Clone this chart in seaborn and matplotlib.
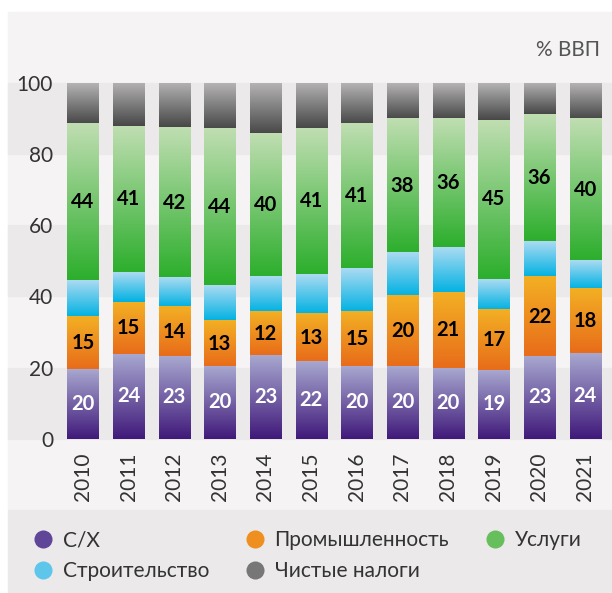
import numpy as np
import pandas as pd
import seaborn as sns
import matplotlib.pyplot as plt
from matplotlib.colors import LinearSegmentedColormap
from matplotlib.lines import Line2D
from matplotlib.patches import Rectangle

# --- Data (% of GDP) ---
years = ['2010', '2011', '2012', '2013', '2014', '2015',
         '2016', '2017', '2018', '2019', '2020', '2021']
agri = [19.6, 23.8, 23.2, 20.4, 23.4, 21.8, 20.4, 20.4, 19.9, 19.3, 23.2, 24.1]
industry = [14.7, 14.6, 13.8, 12.7, 12.1, 13.3, 15.2, 19.7, 21.1, 16.9, 22.3, 18.0]
construction = [10.3, 8.2, 8.2, 10.1, 9.9, 11.2, 12.1, 12.1, 12.9, 8.7, 10.1, 8.1]
services = [43.9, 41.3, 42.4, 43.9, 40.4, 41.0, 40.8, 37.7, 36.0, 44.7, 35.6, 39.7]
taxes = [11.5, 12.1, 12.4, 12.9, 14.2, 12.7, 11.5, 10.1, 10.1, 10.4, 8.8, 10.1]

series_names = ['С/Х', 'Промышленность', 'Строительство', 'Услуги', 'Чистые налоги']
series_values = [agri, industry, construction, services, taxes]
labelled = ['С/Х', 'Промышленность', 'Услуги']

# gradient colours (bottom, top)
grads = {
    'С/Х': ('#40197a', '#a8a8d0'),
    'Промышленность': ('#e86c1a', '#f3b024'),
    'Строительство': ('#00b1e2', '#abdbf2'),
    'Услуги': ('#2cae2c', '#c0deb2'),
    'Чистые налоги': ('#474747', '#b5b3b4'),
}
legend_colors = ['#5f4698', '#5ec6ea', '#ef8f1f', '#777777', '#66be5c']

BG = '#f5f3f4'
BAND = '#ebe9ea'
TXT = '#333333'

plt.rcParams['font.family'] = ['Lato', 'DejaVu Sans']

fig = plt.figure(figsize=(6.12, 5.93), dpi=100, facecolor='white')
W, H = 612, 593
# page background panels
fig.patches.append(Rectangle((8 / W, 83 / H), 1, (H - 12 - 83) / H,
                             transform=fig.transFigure, color=BG, zorder=-5))
fig.patches.append(Rectangle((8 / W, 0), 1, 83 / H,
                             transform=fig.transFigure, color=BAND, zorder=-5))

ax = fig.add_axes([60 / W, (H - 438.7) / H, 548 / W, 355.7 / H])
ax.set_facecolor('none')

# cumulative tops per layer
df = pd.DataFrame({'year': years})
cum = np.zeros(len(years))
bottoms = {}
for name, vals in zip(series_names, series_values):
    bottoms[name] = cum.copy()
    cum = cum + np.array(vals)
    df[name] = cum.copy()

grad = np.linspace(0, 1, 256).reshape(-1, 1)
bar_w = 0.68

# draw from the top layer down, then paint each segment with a gradient
for name in reversed(series_names):
    n0 = len(ax.patches)
    sns.barplot(data=df, x='year', y=name, color=grads[name][0],
                width=bar_w, ax=ax, zorder=2)
    cmap = LinearSegmentedColormap.from_list(name, list(grads[name]))
    for p, b in zip(ax.patches[n0:], bottoms[name]):
        x0, w, top = p.get_x(), p.get_width(), p.get_height()
        p.set_visible(False)
        ax.imshow(grad, extent=[x0, x0 + w, b, top], origin='lower',
                  cmap=cmap, aspect='auto', zorder=3, interpolation='bilinear')

# value labels
for name, vals in zip(series_names, series_values):
    if name not in labelled:
        continue
    col = 'white' if name == 'С/Х' else 'black'
    for i, v in enumerate(vals):
        ax.text(i, bottoms[name][i] + v / 2, f'{round(v):d}', ha='center',
                va='center', fontsize=14.5, fontweight='bold', color=col, zorder=5)

# horizontal bands
for k in [0, 40, 80]:
    ax.axhspan(k, k + 20, xmin=-0.095, xmax=1.01, color=BAND, zorder=0, clip_on=False)

ax.set_xlim(-0.5, len(years) - 0.5)
ax.set_ylim(0, 100)
ax.set_yticks([0, 20, 40, 60, 80, 100])
ax.set_xlabel('')
ax.set_ylabel('')
for s in ax.spines.values():
    s.set_visible(False)
ax.tick_params(axis='both', length=0, labelsize=15, labelcolor=TXT)
ax.tick_params(axis='y', pad=5)
ax.tick_params(axis='x', pad=10)
plt.setp(ax.get_xticklabels(), rotation=90)

fig.text(600 / W, 1 - 49.5 / H, '% ВВП', ha='right', va='center',
         fontsize=15, color='#555555')

# legend
order = ['С/Х', 'Строительство', 'Промышленность', 'Чистые налоги', 'Услуги']
handles = [Line2D([], [], marker='o', linestyle='', markersize=13,
                  markerfacecolor=c, markeredgecolor='none', label=n)
           for n, c in zip(order, legend_colors)]
fig.legend(handles=handles, loc='upper left', bbox_to_anchor=(22 / W, 1 - 520 / H),
           ncol=3, frameon=False, fontsize=15, handletextpad=0.45,
           columnspacing=1.7, labelspacing=0.5, borderpad=0, handlelength=1.0,
           labelcolor=TXT)

fig.savefig('out.png', dpi=100, facecolor='white')
